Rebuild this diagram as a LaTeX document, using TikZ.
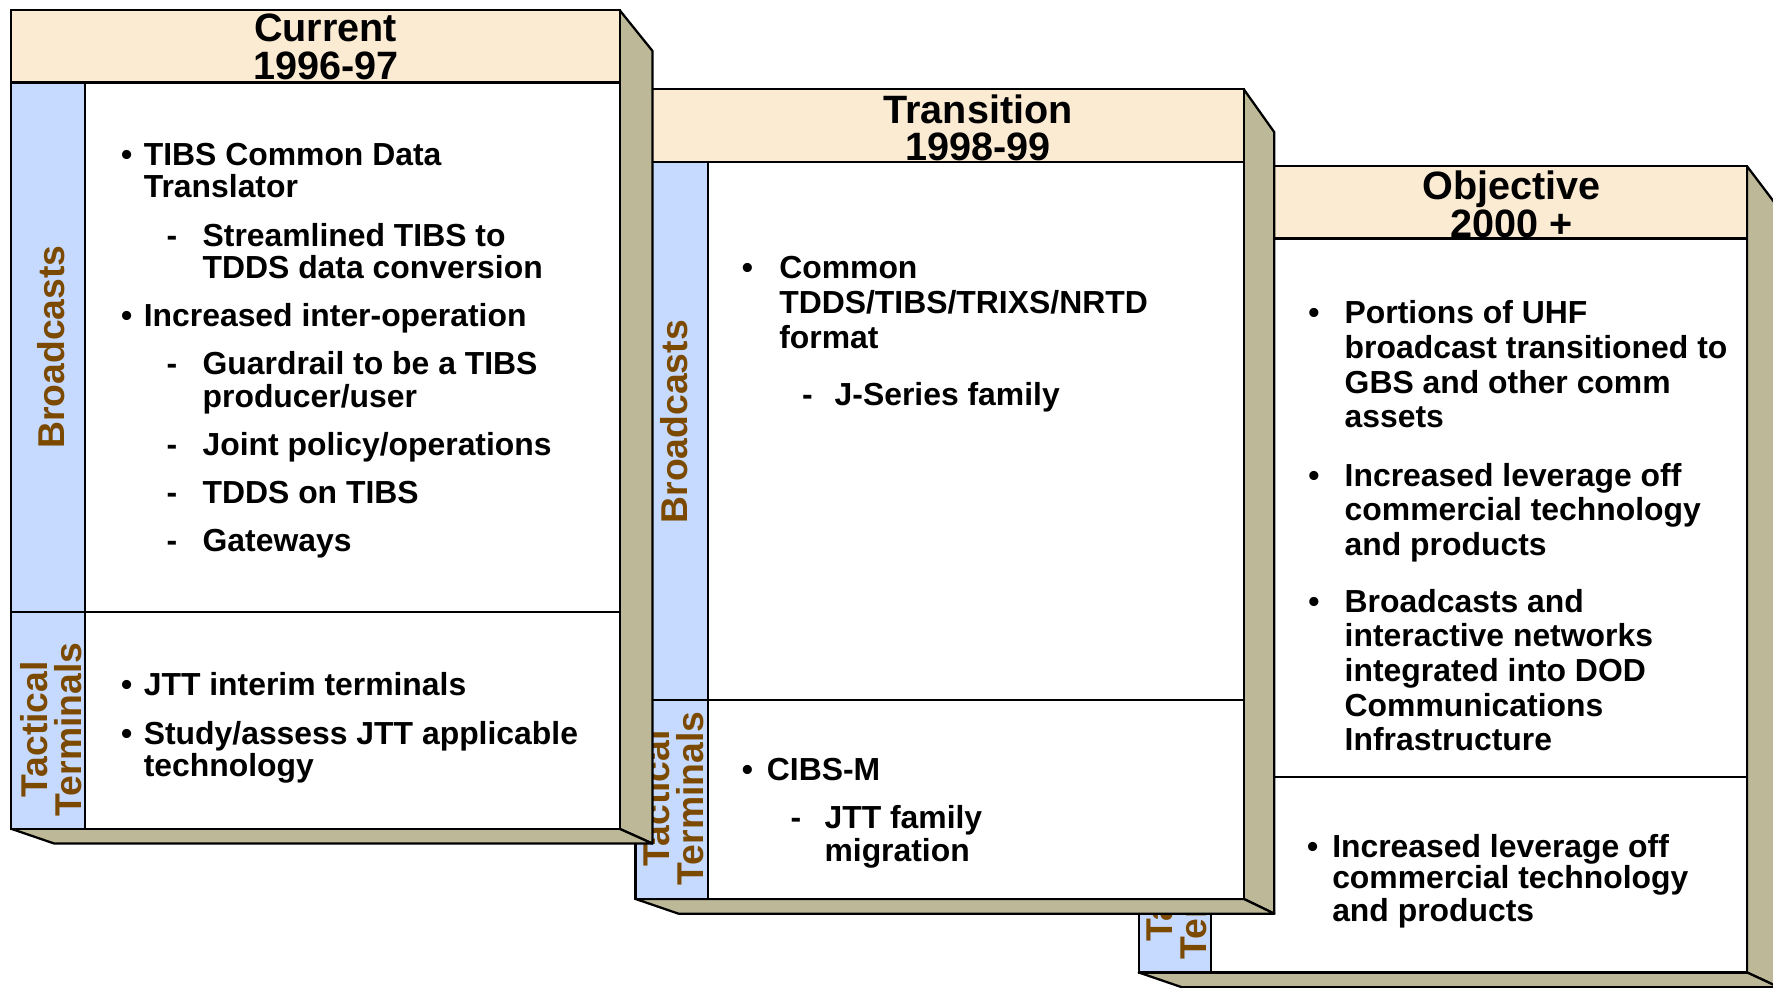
\documentclass[tikz,border=0pt]{standalone}
\usepackage{fontspec}
\setmainfont{Liberation Sans}
\definecolor{extc}{HTML}{BDB998}
\definecolor{hdrc}{HTML}{FCEBD3}
\definecolor{stripc}{HTML}{C6D9FE}
\definecolor{brownc}{HTML}{7B4A00}
\tikzset{
  ext/.style={fill=extc, draw=black, line width=2pt, line join=round},
  hdr/.style={fill=hdrc, draw=black, line width=2pt},
  body/.style={fill=white, draw=black, line width=2pt},
  strip/.style={fill=stripc, draw=black, line width=2pt},
  divline/.style={draw=black, line width=2pt},
  txt/.style={anchor=base west, inner sep=0pt, font=\fontsize{28.2}{30}\selectfont\bfseries},
  blt/.style={anchor=base, inner sep=0pt, font=\fontsize{28.2}{30}\selectfont\bfseries},
  htxt/.style={anchor=base, inner sep=0pt, font=\fontsize{35}{33}\selectfont\bfseries},
  side/.style={rotate=90, inner sep=0pt, align=center, text=brownc, font=\fontsize{33}{30}\selectfont\bfseries}
}
\begin{document}
\begin{tikzpicture}[x=1pt,y=-1pt]
\useasboundingbox (0,0) rectangle (1568,873);

% ---------- Panel 3 : Objective ----------
\draw[ext] (1545,147) -- (1573,184) -- (1573,873) -- (1545,860) -- cycle;
\draw[ext] (1007,860) -- (1045,873) -- (1573,873) -- (1545,860) -- cycle;
\draw[body] (1007,211) rectangle (1545,860);
\draw[hdr] (1007,147) rectangle (1545,211);
\draw[strip] (1007,211) rectangle (1071,860);
\draw[divline] (1007,687) -- (1545,687);
\node[htxt] (h3a) at (1337,176) {Objective};
\node[htxt] (h3b) at (1337,210) {2000 +};
\node[side] (s3t) at (1040,772) {Tactical\\Terminals};
\node[blt] (b3a) at (1162,286) {•};
\node[txt] (t3a) at (1189,286) {Portions of UHF};
\node[txt] (t3b) at (1189,317) {broadcast transitioned to};
\node[txt] (t3c) at (1189,348) {GBS and other comm};
\node[txt] (t3d) at (1189,378) {assets};
\node[blt] (b3b) at (1162,430) {•};
\node[txt] (t3e) at (1189,430) {Increased leverage off};
\node[txt] (t3f) at (1189,460) {commercial technology};
\node[txt] (t3g) at (1189,491) {and products};
\node[blt] (b3c) at (1162,542) {•};
\node[txt] (t3h) at (1189,542) {Broadcasts and};
\node[txt] (t3i) at (1189,572) {interactive networks};
\node[txt] (t3j) at (1189,603) {integrated into DOD};
\node[txt] (t3k) at (1189,634) {Communications};
\node[txt] (t3l) at (1189,664) {Infrastructure};
\node[blt] (b3d) at (1161,758) {•};
\node[txt] (t3m) at (1178,758) {Increased leverage off};
\node[txt] (t3n) at (1178,786) {commercial technology};
\node[txt] (t3o) at (1178,815) {and products};

% ---------- Panel 2 : Transition ----------
\draw[ext] (1100,79) -- (1127,117) -- (1127,808) -- (1100,795) -- cycle;
\draw[ext] (562,795) -- (600,808) -- (1127,808) -- (1100,795) -- cycle;
\draw[body] (562,143) rectangle (1100,795);
\draw[hdr] (562,79) rectangle (1100,143);
\draw[strip] (562,143) rectangle (626,795);
\draw[divline] (562,619) -- (1100,619);
\node[htxt] (h2a) at (865,109) {Transition};
\node[htxt] (h2b) at (865,142) {1998-99};
\node[side] (s2b) at (596,373) {Broadcasts};
\node[side] (s2t) at (595,706) {Tactical\\Terminals};
\node[blt] (b2a) at (661,246) {•};
\node[txt] (t2a) at (689,246) {Common};
\node[txt] (t2b) at (689,277) {TDDS/TIBS/TRIXS/NRTD};
\node[txt] (t2c) at (689,308) {format};
\node[blt] (d2a) at (714,359) {-};
\node[txt] (t2d) at (738,359) {J-Series family};
\node[blt] (b2b) at (661,690) {•};
\node[txt] (t2e) at (678,690) {CIBS-M};
\node[blt] (d2b) at (704,733) {-};
\node[txt] (t2f) at (729,733) {JTT family};
\node[txt] (t2g) at (729,762) {migration};

% ---------- Panel 1 : Current ----------
\draw[ext] (548,9) -- (577,45) -- (577,746) -- (548,733) -- cycle;
\draw[ext] (10,733) -- (48,746) -- (577,746) -- (548,733) -- cycle;
\draw[body] (10,73) rectangle (548,733);
\draw[hdr] (10,9) rectangle (548,73);
\draw[strip] (10,73) rectangle (75,733);
\draw[divline] (10,541) -- (548,541);
\node[htxt] (h1a) at (288,37) {Current};
\node[htxt] (h1b) at (288,70) {1996-97};
\node[side] (s1b) at (45,307) {Broadcasts};
\node[side] (s1t) at (45,645) {Tactical\\Terminals};
\node[blt] (b1a) at (112,146) {•};
\node[txt] (t1a) at (127,146) {TIBS Common Data};
\node[txt] (t1b) at (127,175) {Translator};
\node[blt] (d1a) at (152,218) {-};
\node[txt] (t1c) at (179,218) {Streamlined TIBS to};
\node[txt] (t1d) at (179,246) {TDDS data conversion};
\node[blt] (b1b) at (112,289) {•};
\node[txt] (t1e) at (127,289) {Increased inter-operation};
\node[blt] (d1b) at (152,331) {-};
\node[txt] (t1f) at (179,331) {Guardrail to be a TIBS};
\node[txt] (t1g) at (179,360) {producer/user};
\node[blt] (d1c) at (152,403) {-};
\node[txt] (t1h) at (179,403) {Joint policy/operations};
\node[blt] (d1d) at (152,445) {-};
\node[txt] (t1i) at (179,445) {TDDS on TIBS};
\node[blt] (d1e) at (152,488) {-};
\node[txt] (t1j) at (179,488) {Gateways};
\node[blt] (b1c) at (112,615) {•};
\node[txt] (t1k) at (127,615) {JTT interim terminals};
\node[blt] (b1d) at (112,658) {•};
\node[txt] (t1l) at (127,658) {Study/assess JTT applicable};
\node[txt] (t1m) at (127,687) {technology};
\end{tikzpicture}
\end{document}
